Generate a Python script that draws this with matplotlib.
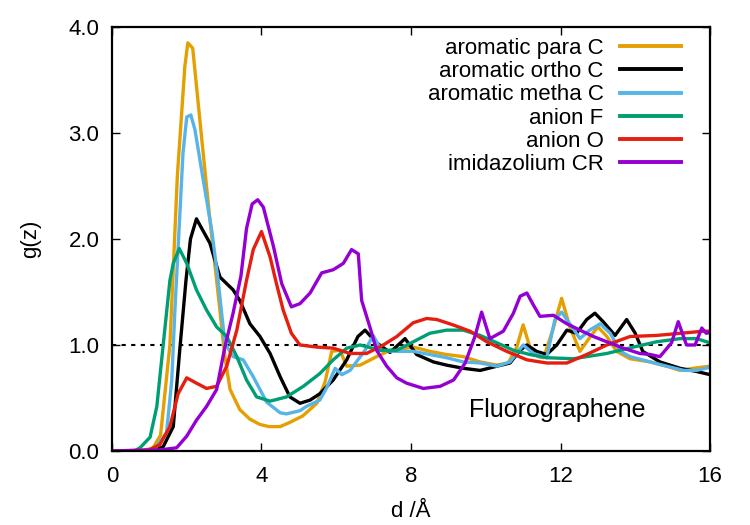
import matplotlib
matplotlib.use("Agg")
import matplotlib.pyplot as plt

plt.rcParams['font.family'] = ['Liberation Sans', 'DejaVu Sans']

labels = ["aromatic para C", "aromatic ortho C", "aromatic metha C",
          "anion F", "anion O", "imidazolium CR"]
colors = ["#E69F00", "#000000", "#56B4E9", "#009E73", "#E51E10", "#9400D3"]

para_d = [0, 0.8, 1.1, 1.3, 1.55, 1.75, 1.95, 2.03, 2.16, 2.4, 2.6, 2.8, 3.02, 3.16, 3.42,
          3.69, 3.96, 4.2, 4.5, 4.76, 5.1, 5.48, 5.7, 5.88, 6.1, 6.28, 6.64, 7.08, 7.44, 8.06,
          8.5, 8.95, 9.4, 9.85, 10.3, 10.6, 10.83, 11.0, 11.18, 11.4, 11.55, 11.8, 12.03, 12.25,
          12.52, 12.8, 13.0, 13.24, 13.5, 13.86, 14.4, 14.84, 15.2, 15.55, 16.0]
para_g = [0, 0.0, 0.03, 0.15, 1.0, 2.6, 3.63, 3.85, 3.80, 2.95, 2.25, 1.61, 0.89, 0.58, 0.39,
          0.30, 0.25, 0.23, 0.23, 0.27, 0.33, 0.45, 0.65, 0.94, 0.95, 0.80, 0.81, 0.89, 0.95, 0.98,
          0.94, 0.91, 0.89, 0.84, 0.81, 0.83, 0.98, 1.19, 0.98, 0.89, 0.88, 1.15, 1.44, 1.17,
          0.94, 1.08, 1.17, 1.08, 0.94, 0.87, 0.84, 0.80, 0.76, 0.78, 0.80]

ortho_d = [0, 1.1, 1.37, 1.64, 1.82, 1.98, 2.1, 2.26, 2.62, 2.89, 3.24, 3.42, 3.69, 3.96, 4.23,
           4.5, 4.76, 5.03, 5.3, 5.56, 5.92, 6.28, 6.58, 6.77, 7.08, 7.44, 7.84, 8.15, 8.6, 8.95,
           9.4, 9.85, 10.3, 10.65, 10.92, 11.1, 11.36, 11.63, 11.9, 12.17, 12.43, 12.7, 12.92,
           13.14, 13.46, 13.77, 14.0, 14.2, 14.66, 15.2, 15.64, 16.0]
ortho_g = [0, 0, 0.04, 0.23, 0.98, 1.61, 2.0, 2.19, 1.96, 1.64, 1.52, 1.42, 1.2, 1.08, 0.92,
           0.70, 0.51, 0.45, 0.48, 0.54, 0.67, 0.86, 1.08, 1.14, 1.02, 0.93, 1.06, 0.91, 0.84, 0.81,
           0.78, 0.76, 0.80, 0.83, 0.95, 1.0, 0.94, 0.91, 1.0, 1.14, 1.11, 1.24, 1.30,
           1.22, 1.09, 1.24, 1.11, 0.94, 0.84, 0.78, 0.75, 0.72]

metha_d = [0, 1.1, 1.46, 1.6, 1.68, 1.9, 2.0, 2.11, 2.22, 2.44, 2.67, 2.84, 3.02, 3.24, 3.51,
           3.78, 3.96, 4.14, 4.5, 4.67, 5.03, 5.2, 5.56, 5.75, 5.97, 6.15, 6.37, 6.77, 6.99, 7.2,
           7.53, 8.06, 8.5, 8.95, 9.4, 9.85, 10.3, 10.65, 11.0, 11.27, 11.63, 11.85, 12.03, 12.25,
           12.52, 12.78, 13.06, 13.33, 13.6, 13.86, 14.4, 14.84, 15.3, 15.64, 16.0]
metha_g = [0, 0, 0.17, 0.67, 1.3, 2.81, 3.15, 3.17, 3.03, 2.56, 2.08, 1.61, 1.02, 0.89, 0.86,
           0.70, 0.58, 0.46, 0.36, 0.35, 0.38, 0.42, 0.48, 0.60, 0.78, 0.72, 0.76, 0.95, 1.09, 0.95,
           0.94, 0.94, 0.91, 0.88, 0.84, 0.83, 0.80, 0.84, 1.0, 0.92, 0.88, 1.24, 1.31, 1.2,
           1.06, 1.14, 1.2, 1.11, 0.94, 0.89, 0.84, 0.80, 0.76, 0.76, 0.79]

anF_d = [0, 0.6, 0.75, 1.02, 1.2, 1.37, 1.55, 1.64, 1.8, 2.0, 2.26, 2.53, 2.8, 3.07, 3.34, 3.6,
         3.87, 4.23, 4.67, 5.12, 5.56, 5.92, 6.28, 6.64, 7.17, 7.62, 8.06, 8.5, 8.95, 9.4, 9.85,
         10.3, 10.74, 11.18, 11.63, 12.34, 13.24, 13.95, 14.57, 15.2, 15.64, 16.0]
anF_g = [0, 0, 0.03, 0.13, 0.42, 1.0, 1.61, 1.77, 1.91, 1.77, 1.52, 1.33, 1.17, 1.08, 0.89, 0.67,
         0.51, 0.47, 0.51, 0.61, 0.73, 0.86, 0.97, 1.0, 0.95, 0.95, 1.03, 1.11, 1.14, 1.14, 1.09,
         1.02, 0.95, 0.91, 0.88, 0.87, 0.92, 0.98, 1.03, 1.06, 1.06, 1.02]

anO_d = [0, 1.0, 1.28, 1.55, 1.77, 2.0, 2.26, 2.53, 2.8, 3.07, 3.34, 3.6, 3.78, 4.0, 4.23, 4.4,
         4.58, 4.8, 5.03, 5.48, 5.92, 6.37, 6.81, 7.26, 7.62, 8.06, 8.42, 8.69, 9.12, 9.58, 10.03,
         10.56, 11.1, 11.63, 12.17, 12.7, 13.24, 13.86, 14.57, 15.2, 15.82, 16.0]
anO_g = [0, 0.01, 0.06, 0.23, 0.54, 0.69, 0.64, 0.59, 0.61, 0.80, 1.14, 1.61, 1.9, 2.07, 1.83, 1.58,
         1.33, 1.11, 1.0, 0.98, 0.97, 0.92, 0.92, 1.0, 1.08, 1.21, 1.25, 1.24, 1.19, 1.13, 1.03,
         0.94, 0.86, 0.83, 0.83, 0.91, 1.0, 1.08, 1.09, 1.11, 1.13, 1.13]

imid_d = [0, 1.28, 1.73, 2.0, 2.26, 2.53, 2.8, 3.02, 3.24, 3.45, 3.6, 3.75, 3.9, 4.05, 4.32,
          4.54, 4.8, 5.03, 5.3, 5.61, 5.92, 6.19, 6.41, 6.59, 6.68, 6.9, 7.08, 7.35, 7.62, 7.88,
          8.33, 8.78, 9.14, 9.45, 9.71, 9.89, 10.11, 10.47, 10.74, 10.92, 11.1, 11.27, 11.45,
          11.81, 12.17, 12.52, 12.88, 13.24, 13.68, 14.12, 14.4, 14.66, 14.97, 15.15, 15.37,
          15.6, 15.78, 15.9, 16.0]
imid_g = [0, 0.01, 0.03, 0.14, 0.29, 0.42, 0.58, 0.98, 1.3, 1.65, 2.1, 2.33, 2.37, 2.3, 1.93,
          1.58, 1.36, 1.39, 1.49, 1.68, 1.71, 1.77, 1.9, 1.86, 1.42, 1.17, 0.95, 0.80, 0.69, 0.64,
          0.59, 0.61, 0.67, 0.83, 1.08, 1.31, 1.06, 1.13, 1.30, 1.46, 1.49, 1.38, 1.27,
          1.28, 1.2, 1.14, 1.08, 1.03, 0.97, 0.92, 0.91, 0.89, 1.02, 1.22, 1.0,
          1.0, 1.16, 1.11, 1.12]

series = [(para_d, para_g), (ortho_d, ortho_g), (metha_d, metha_g),
          (anF_d, anF_g), (anO_d, anO_g), (imid_d, imid_g)]

xticks = [0, 4, 8, 12, 16]
yticks = [0.0, 1.0, 2.0, 3.0, 4.0]

fig = plt.figure(figsize=(7.5, 5.25), dpi=100)
ax = fig.add_axes([0.1493, 0.141, 0.7974, 0.8076])

ax.plot([0, 16], [1, 1], color="black", lw=1.5, linestyle=(0, (2, 2.6)), zorder=1)
for (d, g), lab, c in zip(series, labels, colors):
    ax.plot(d, g, color=c, lw=2.4, label=lab, zorder=2)

ax.set_xlim(0, 16)
ax.set_ylim(0, 4)
ax.set_xticks(xticks)
ax.set_yticks(yticks)
ax.set_xticklabels([str(t) for t in xticks])
ax.set_yticklabels([f"{t:.1f}" for t in yticks])
ax.tick_params(direction="in", length=6, width=1.0, top=True, right=True,
               labelsize=16)
ax.tick_params(axis="x", pad=11)
ax.tick_params(axis="y", pad=9)
for s in ax.spines.values():
    s.set_linewidth(1.6)

ax.set_xlabel("d /Å", fontsize=16, labelpad=10)
ax.set_ylabel("g(z)", fontsize=16, labelpad=20)

ax.text(9.55, 0.39, "Fluorographene", fontsize=18, ha="left", va="center")

leg = ax.legend(loc="upper right", markerfirst=False, frameon=False, fontsize=16,
                handlelength=2.75, handletextpad=0.72, labelspacing=0.1,
                borderaxespad=0.0, bbox_to_anchor=(0.966, 0.995))
for line in leg.get_lines():
    line.set_linewidth(2.8)

fig.savefig("out.png", dpi=100)
